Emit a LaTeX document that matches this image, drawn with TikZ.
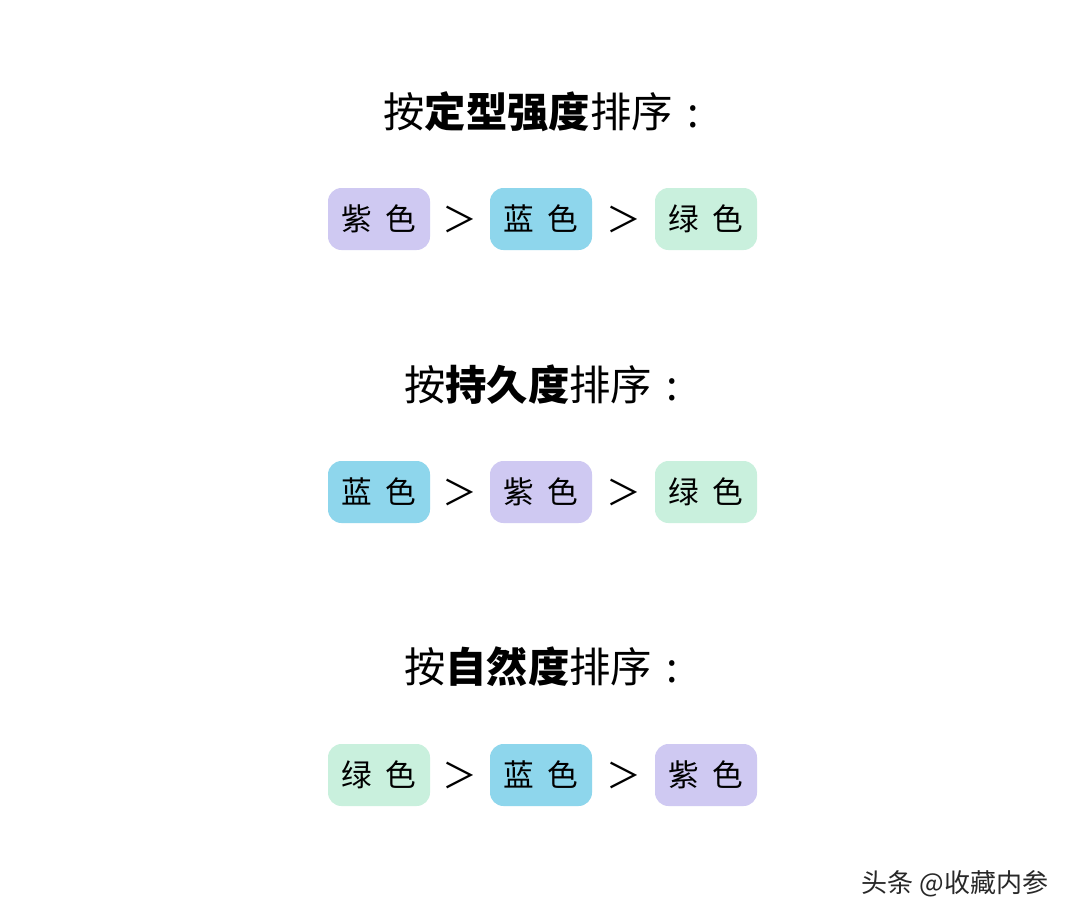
\documentclass[tikz,border=0pt]{standalone}
\usepackage{fontspec}
\setmainfont{Noto Sans CJK SC}
\newfontfamily\cjk{Noto Sans CJK SC}
\definecolor{purp}{RGB}{207,201,242}
\definecolor{blu}{RGB}{142,214,236}
\definecolor{grn}{RGB}{201,240,221}
\definecolor{wm}{RGB}{40,40,40}
\tikzset{
  chip/.style={rounded corners=13.5pt*0.75, minimum width=102*0.75pt, minimum height=62*0.75pt, inner sep=0pt, font=\fontsize{23}{26}\selectfont\cjk},
  pchip/.style={chip, fill=purp},
  bchip/.style={chip, fill=blu},
  gchip/.style={chip, fill=grn},
  gt/.style={inner sep=0pt, font=\fontsize{26}{30}\selectfont\cjk},
  ttl/.style={inner sep=0pt, font=\fontsize{31}{36}\selectfont\cjk},
}
\newcommand{\colsep}{\hspace{0.35em}:}
\begin{document}
\begin{tikzpicture}[x=0.75pt,y=-0.75pt]
\useasboundingbox[fill=white] (0,0) rectangle (1080,922);
% Row 1
\node[ttl] (t1) at (541,112) {按\textbf{定型强度}排序\colsep};
\node[pchip] (a1) at (379,219) {紫\hspace{0.45em}色};
\node[bchip] (a2) at (541,219) {蓝\hspace{0.45em}色};
\node[gchip] (a3) at (706,219) {绿\hspace{0.45em}色};
\node[gt] (g11) at (460,219) {＞};
\node[gt] (g12) at (624,219) {＞};
% Row 2
\node[ttl] (t2) at (541,385) {按\textbf{持久度}排序\colsep};
\node[bchip] (b1) at (379,492) {蓝\hspace{0.45em}色};
\node[pchip] (b2) at (541,492) {紫\hspace{0.45em}色};
\node[gchip] (b3) at (706,492) {绿\hspace{0.45em}色};
\node[gt] (g21) at (460,492) {＞};
\node[gt] (g22) at (624,492) {＞};
% Row 3
\node[ttl] (t3) at (541,667) {按\textbf{自然度}排序\colsep};
\node[gchip] (c1) at (379,775) {绿\hspace{0.45em}色};
\node[bchip] (c2) at (541,775) {蓝\hspace{0.45em}色};
\node[pchip] (c3) at (706,775) {紫\hspace{0.45em}色};
\node[gt] (g31) at (460,775) {＞};
\node[gt] (g32) at (624,775) {＞};
% watermark
\node[inner sep=0pt, text=wm, font=\fontsize{19.5}{22}\selectfont\cjk] (wm) at (955,884) {头条 @收藏内参};
\end{tikzpicture}
\end{document}
